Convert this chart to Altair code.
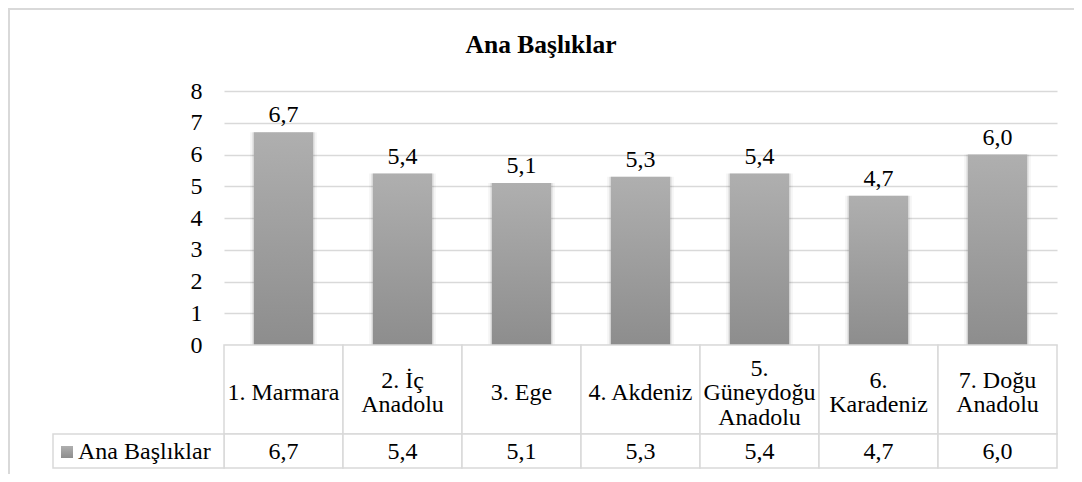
import altair as alt
import pandas as pd

# ---- data ----
categories = ["1. Marmara", "2. İç Anadolu", "3. Ege", "4. Akdeniz",
              "5. Güneydoğu Anadolu", "6. Karadeniz", "7. Doğu Anadolu"]
header_lines = ["1. Marmara", "2. İç\nAnadolu", "3. Ege", "4. Akdeniz",
                "5.\nGüneydoğu\nAnadolu", "6.\nKaradeniz", "7. Doğu\nAnadolu"]
values = [6.7, 5.4, 5.1, 5.3, 5.4, 4.7, 6.0]
series_name = "Ana Başlıklar"
chart_title = "Ana Başlıklar"
y_ticks = [0, 1, 2, 3, 4, 5, 6, 7, 8]

labels = [f"{v:.1f}".replace(".", ",") for v in values]
df = pd.DataFrame({"cat": categories, "header": header_lines,
                   "value": values, "label": labels})

FONT = "Liberation Serif, Times New Roman, serif"
GRID = "#d9d9d9"
W, H = 833, 377
ZERO_Y = 254      # pixel y of value 0 inside the plot area
VAL_TOP = 343     # top of the values row
LH = 24.5         # header line height

grad = alt.Gradient(
    gradient="linear",
    stops=[alt.GradientStop(color="#afafaf", offset=0),
           alt.GradientStop(color="#8d8d8d", offset=1)],
    x1=0, x2=0, y1=0, y2=1)

xenc = alt.X("cat:N", sort=categories, axis=None,
             scale=alt.Scale(paddingInner=0, paddingOuter=0))
yscale = alt.Scale(domain=[0, 8], range=[ZERO_Y, 0], nice=False)

base = alt.Chart(df)

def shadow(band, op):
    return base.mark_bar(color="#000000", opacity=op,
                         width=alt.RelativeBandSize(band)).encode(
        x=xenc, y=alt.Y("value:Q", scale=yscale), y2=alt.value(ZERO_Y + 2))

bars = base.mark_bar(color=grad, width=alt.RelativeBandSize(0.5)).encode(
    x=xenc,
    y=alt.Y("value:Q", scale=yscale,
            axis=alt.Axis(values=y_ticks, domain=False, ticks=False,
                          grid=True, gridColor=GRID, gridWidth=1.5,
                          labelFont=FONT, labelFontSize=24, labelColor="black",
                          labelPadding=22, title=None)),
)

bar_labels = base.mark_text(font=FONT, fontSize=24, color="black",
                            baseline="alphabetic", dy=-10).encode(
    x=xenc, y="value:Q", text="label:N")

header_cells = base.mark_rect(fill="white", stroke=GRID, strokeWidth=1.5).encode(
    x=xenc, y=alt.value(ZERO_Y), y2=alt.value(VAL_TOP))

def header_layer(n):
    return base.transform_calculate(
        nl="length(split(datum.header, '\\n'))"
    ).transform_filter(f"datum.nl == {n}").mark_text(
        font=FONT, fontSize=24, color="black", baseline="middle",
        lineBreak="\n", lineHeight=LH
    ).encode(x=xenc, y=alt.value(302 - (n - 1) * LH / 2), text="header:N")

value_cells = base.mark_rect(fill="white", stroke=GRID, strokeWidth=1.5).encode(
    x=xenc, y=alt.value(VAL_TOP), y2=alt.value(H))

value_text = base.mark_text(font=FONT, fontSize=24, color="black",
                            baseline="middle").encode(
    x=xenc, y=alt.value(361), text="label:N")

leg = alt.Chart(pd.DataFrame({"name": [series_name], "title": [chart_title]}))

legend_cell = leg.mark_rect(fill="white", stroke=GRID, strokeWidth=1.5).encode(
    x=alt.value(-171), x2=alt.value(0), y=alt.value(VAL_TOP), y2=alt.value(H))

legend_swatch = leg.mark_rect(color=grad).encode(
    x=alt.value(-163), x2=alt.value(-151), y=alt.value(355), y2=alt.value(367))

legend_text = leg.mark_text(font=FONT, fontSize=24, color="black",
                            align="left", baseline="middle").encode(
    x=alt.value(-146), y=alt.value(361), text="name:N")

title_text = leg.mark_text(font=FONT, fontSize=25.5, fontWeight="bold",
                           color="black", align="center",
                           baseline="alphabetic").encode(
    x=alt.value(317), y=alt.value(-38), text="title:N")

frame = leg.mark_rect(filled=False, stroke=GRID, strokeWidth=2).encode(
    x=alt.value(-215), x2=alt.value(W + 60), y=alt.value(-82), y2=alt.value(H + 60))

chart = alt.layer(
    frame, shadow(0.56, 0.04), shadow(0.53, 0.06), bars, bar_labels,
    header_cells, value_cells,
    header_layer(1), header_layer(2), header_layer(3),
    value_text, legend_cell, legend_swatch, legend_text, title_text
).properties(
    width=W, height=H,
    padding={"left": 216, "top": 83, "right": 17, "bottom": 6},
    autosize=alt.AutoSizeParams(type="none"),
).configure_view(stroke=None)

chart.save("out.html", embed_options={"renderer": "svg", "actions": False})
